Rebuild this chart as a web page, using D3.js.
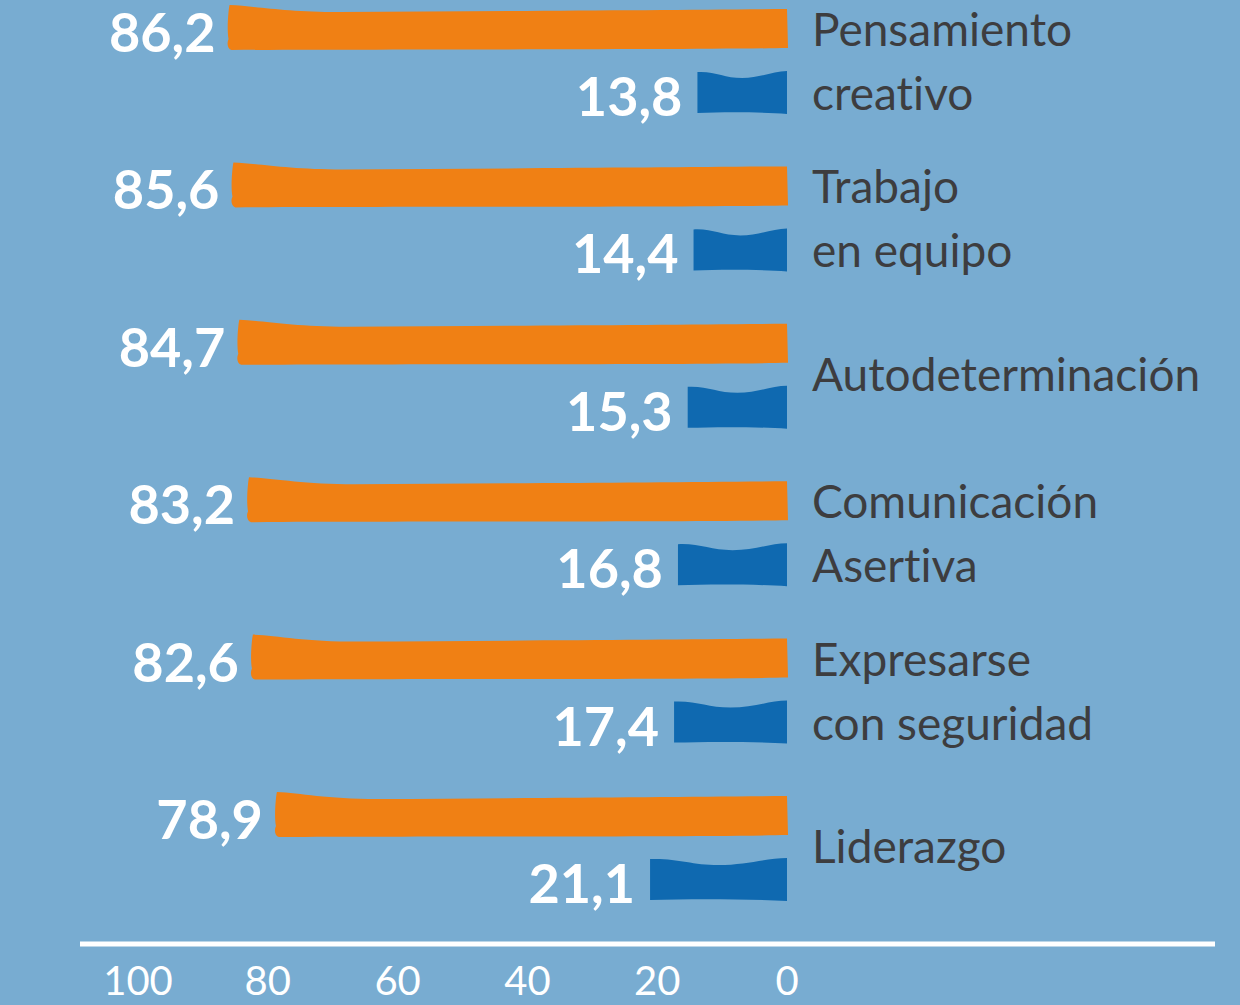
<!DOCTYPE html>
<html>
<head>
<meta charset="utf-8">
<script src="https://cdn.jsdelivr.net/npm/d3@7"></script>
<style>
  html, body { margin: 0; padding: 0; background: #78acd1; }
  svg { display: block; }
  text { font-variant-ligatures: none; font-feature-settings: "liga" 0; }
</style>
</head>
<body>
<div id="chart"></div>
<script>
// data
var categories = ["Pensamiento creativo", "Trabajo en equipo", "Autodeterminación",
                  "Comunicación Asertiva", "Expresarse con seguridad", "Liderazgo"];
var labelLines = [["Pensamiento", "creativo"], ["Trabajo", "en equipo"], ["Autodeterminación"],
                  ["Comunicación", "Asertiva"], ["Expresarse", "con seguridad"], ["Liderazgo"]];
var orangeValues = [86.2, 85.6, 84.7, 83.2, 82.6, 78.9];
var blueValues   = [13.8, 14.4, 15.3, 16.8, 17.4, 21.1];
var tickValues   = [100, 80, 60, 40, 20, 0];

var width = 1240, height = 1005;
var barH = 40;

var svg = d3.select("#chart")
  .append("svg")
    .attr("width", width)
    .attr("height", height);

svg.append("rect")
  .attr("width", width)
  .attr("height", height)
  .attr("fill", "#78acd1");

// value axis runs right to left
var x = d3.scaleLinear()
  .domain([0, 100])
  .range([787, 138]);

// centre of the orange bar of each row
var y = d3.scalePoint()
  .domain(categories)
  .range([29, 816]);
var pairGap = 64;

// hand drawn looking bar, growing left from x(0)
function orangeBar(v, cy) {
  var x1 = x(0), x0 = x(v), w = x1 - x0, t = cy - barH / 2, b = cy + barH / 2;
  var p = d3.path();
  p.moveTo(x0 + 2, t - 4);
  p.bezierCurveTo(x0 + w * 0.05, t - 3, x0 + w * 0.1, t + 3, x0 + w * 0.2, t + 3);
  p.bezierCurveTo(x0 + w * 0.5, t + 2, x0 + w * 0.8, t + 1, x1, t);
  p.lineTo(x1 + 1, b - 1);
  p.bezierCurveTo(x0 + w * 0.8, b + 1, x0 + w * 0.3, b, x0 + 4, b + 1);
  p.bezierCurveTo(x0, b, x0 - 1, b - 6, x0 + 1, b - 10);
  p.bezierCurveTo(x0 - 1, cy, x0 + 1, t, x0 + 2, t - 4);
  p.closePath();
  return p.toString();
}

function blueBar(v, cy) {
  var x1 = x(0), x0 = x(v), w = x1 - x0, t = cy - barH / 2, b = cy + barH / 2;
  var p = d3.path();
  p.moveTo(x0, t - 1);
  p.bezierCurveTo(x0 + w * 0.2, t - 2, x0 + w * 0.3, t + 5, x0 + w * 0.5, t + 5);
  p.bezierCurveTo(x0 + w * 0.7, t + 5, x0 + w * 0.85, t - 2, x1, t - 2);
  p.lineTo(x1, b + 1);
  p.bezierCurveTo(x0 + w * 0.7, b - 1, x0 + w * 0.3, b - 1, x0, b);
  p.closePath();
  return p.toString();
}

var rows = svg.selectAll("g.row")
  .data(categories)
  .enter().append("g")
    .attr("class", "row");

rows.append("path")
  .attr("d", function(d, i) { return orangeBar(orangeValues[i], y(d)); })
  .attr("fill", "#f08014");

rows.append("path")
  .attr("d", function(d, i) { return blueBar(blueValues[i], y(d) + pairGap); })
  .attr("fill", "#0f69b0");

// value labels
var valFmt = function(v) { return d3.format(".1f")(v).replace(".", ","); };

rows.append("text")
  .attr("x", function(d, i) { return x(orangeValues[i]) - 12; })
  .attr("y", function(d) { return y(d) + 23; })
  .attr("text-anchor", "end")
  .attr("font-family", "Lato, sans-serif")
  .attr("font-weight", "bold")
  .attr("font-size", 54)
  .attr("fill", "#ffffff")
  .text(function(d, i) { return valFmt(orangeValues[i]); });

rows.append("text")
  .attr("x", function(d, i) { return x(blueValues[i]) - 15; })
  .attr("y", function(d) { return y(d) + pairGap + 23; })
  .attr("text-anchor", "end")
  .attr("font-family", "Lato, sans-serif")
  .attr("font-weight", "bold")
  .attr("font-size", 54)
  .attr("fill", "#ffffff")
  .text(function(d, i) { return valFmt(blueValues[i]); });

// category labels
rows.each(function(d, i) {
  var lines = labelLines[i];
  var g = d3.select(this);
  lines.forEach(function(line, j) {
    var base = lines.length == 2 ? y(d) + j * pairGap + 17 : y(d) + pairGap / 2 + 15;
    g.append("text")
      .attr("x", 812)
      .attr("y", base)
      .attr("font-family", "Lato, sans-serif")
      .attr("font-size", 46)
      .attr("fill", "#3d3d3f")
      .text(line);
  });
});

// bottom axis
svg.append("line")
  .attr("x1", 80)
  .attr("x2", 1215)
  .attr("y1", 944)
  .attr("y2", 944)
  .attr("stroke", "#ffffff")
  .attr("stroke-width", 5);

svg.selectAll("text.tick")
  .data(tickValues)
  .enter().append("text")
    .attr("class", "tick")
    .attr("x", function(d) { return x(d); })
    .attr("y", 995)
    .attr("text-anchor", "middle")
    .attr("font-family", "Lato, sans-serif")
    .attr("font-size", 40)
    .attr("fill", "#ffffff")
    .text(function(d) { return d; });
</script>
</body>
</html>
